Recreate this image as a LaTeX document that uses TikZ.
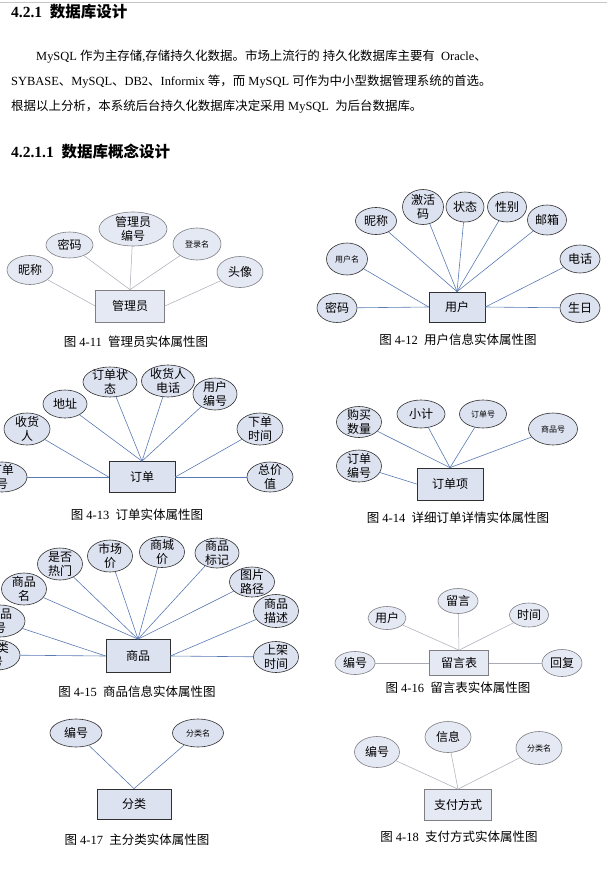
\documentclass[tikz,border=0pt]{standalone}
\usepackage{fontspec}
\setmainfont{Liberation Serif}
\newfontfamily\cjk{Noto Sans CJK SC}
\usetikzlibrary{shapes.geometric}
\newcommand{\zh}[1]{{\cjk #1}}

\definecolor{edgeD}{HTML}{303030}
\definecolor{edgeL}{HTML}{7E7E84}
\definecolor{fillA}{HTML}{DDE2F0}
\definecolor{fillL}{HTML}{E5E9F4}
\definecolor{linkB}{HTML}{5A7AB5}
\definecolor{linkG}{HTML}{A8AAB6}

\tikzset{
  attrnode/.style 2 args={ellipse, draw=edgeD, fill=fillA, line width=0.6pt,
    minimum width=#1pt, minimum height=#2pt, inner sep=0pt},
  attrsoft/.style 2 args={attrnode={#1}{#2}, draw=edgeL, fill=fillL},
  zh/.style={font=\cjk\fontsize{12}{14.5}\selectfont, align=center, inner sep=0pt},
  zhs/.style={font=\cjk\fontsize{8}{9}\selectfont, inner sep=0pt},
  entity/.style 2 args={rectangle, draw=edgeD, fill=fillA, line width=0.7pt,
    minimum width=#1pt, minimum height=#2pt, inner sep=0pt,
    font=\cjk\fontsize{12}{14}\selectfont},
  entitysoft/.style 2 args={entity={#1}{#2}, draw=edgeL, fill=fillL},
  link/.style={draw=linkB, line width=0.6pt},
  softlink/.style={draw=linkG, line width=0.5pt},
  caption/.style={font=\fontsize{12.5}{14}\selectfont, inner sep=0pt},
  bodyline/.style={anchor=west, inner sep=0pt, font=\fontsize{12.45}{15}\selectfont},
  heading/.style={anchor=west, inner sep=0pt, font=\bfseries\fontsize{15.5}{17}\selectfont}
}

\begin{document}
\begin{tikzpicture}[x=1pt, y=-1pt]
\useasboundingbox (0,0) rectangle (607,877);
\fill[white] (0,0) rectangle (607,877);
\draw[gray!45, line width=0.6pt] (0,2) -- (607,2);

% section text
\node[heading] (h1) at (11,12) {4.2.1\ \ \zh{数据库设计}};
\node[bodyline] (p1) at (36,57) {MySQL \zh{作为主存储},\zh{存储持久化数据。市场上流行的}\ \zh{持久化数据库主要有}\ \ Oracle\zh{、}};
\node[bodyline] (p2) at (11,82) {SYBASE\zh{、}MySQL\zh{、}DB2\zh{、}Informix \zh{等，而} MySQL \zh{可作为中小型数据管理系统的首选。}};
\node[bodyline] (p3) at (11,107) {\zh{根据以上分析，本系统后台持久化数据库决定采用} MySQL\ \ \zh{为后台数据库。}};
\node[heading] (h2) at (11,152) {4.2.1.1\ \ \zh{数据库概念设计}};

% administrator
\node[attrsoft={46}{29}, label={[zh]center:昵称}] (a1) at (30,270) {};
\node[attrsoft={47}{26}, label={[zh]center:密码}] (a2) at (69.5,245) {};
\node[attrsoft={68}{34}, label={[zh]center:{管理员\\编号}}] (a3) at (133,229) {};
\node[attrsoft={48}{32}, label={[zhs]center:登录名}] (a4) at (197,244) {};
\node[attrsoft={46}{31}, label={[zh]center:头像}] (a5) at (240,272) {};
\node[entitysoft={69}{32}] (A) at (130,306) {管理员};
\draw[softlink] (a1) -- (A.west);
\draw[softlink] (a2) -- (A.north);
\draw[softlink] (a3) -- (A.north);
\draw[softlink] (a4) -- (A.north);
\draw[softlink] (a5) -- (A.east);
\node[caption] (capA) at (136,342) {\zh{图} 4-11\ \ \zh{管理员实体属性图}};

% user
\node[attrnode={41}{27}, label={[zh]center:昵称}] (b1) at (376,221) {};
\node[attrnode={41}{35}, label={[zh]center:{激活\\码}}] (b2) at (423,207) {};
\node[attrnode={38}{30}, label={[zh]center:状态}] (b3) at (465,207) {};
\node[attrnode={39}{30}, label={[zh]center:性别}] (b4) at (507,207) {};
\node[attrnode={39}{30}, label={[zh]center:邮箱}] (b5) at (547,220) {};
\node[attrnode={41}{32}, label={[zhs]center:用户名}] (b6) at (347,259) {};
\node[attrnode={40}{28}, label={[zh]center:电话}] (b7) at (580,259) {};
\node[attrnode={40}{29}, label={[zh]center:密码}] (b8) at (337,308) {};
\node[attrnode={40}{29}, label={[zh]center:生日}] (b9) at (580,308) {};
\node[entity={56}{30}] (B) at (457,307) {用户};
\draw[link] (b1) -- (B.north);
\draw[link] (b2) -- (B.north);
\draw[link] (b3) -- (B.north);
\draw[link] (b4) -- (B.north);
\draw[link] (b5) -- (B.north);
\draw[link] (b6) -- (B.west);
\draw[link] (b8) -- (B.west);
\draw[link] (b7) -- (B.east);
\draw[link] (b9) -- (B.east);
\node[caption] (capB) at (458,340) {\zh{图} 4-12\ \ \zh{用户信息实体属性图}};

% order
\node[attrnode={50}{30}, label={[zh]center:{订单\\号}}] (c1) at (2,477) {};
\node[attrnode={46}{32}, label={[zh]center:{收货\\人}}] (c2) at (27,429) {};
\node[attrnode={44}{28}, label={[zh]center:地址}] (c3) at (65,404) {};
\node[attrnode={54}{30}, label={[zh]center:{订单状\\态}}] (c4) at (110,382) {};
\node[attrnode={53}{32}, label={[zh]center:{收货人\\电话}}] (c5) at (168,381) {};
\node[attrnode={44}{32}, label={[zh]center:{用户\\编号}}] (c6) at (215,394) {};
\node[attrnode={46}{32}, label={[zh]center:{下单\\时间}}] (c7) at (260,429) {};
\node[attrnode={46}{30}, label={[zh]center:{总价\\值}}] (c8) at (270,477) {};
\node[entity={66}{31}] (C) at (142,477) {订单};
\draw[link] (c1) -- (C.west);
\draw[link] (c2) -- (C.west);
\draw[link] (c3) -- (C.north);
\draw[link] (c4) -- (C.north);
\draw[link] (c5) -- (C.north);
\draw[link] (c6) -- (C.north);
\draw[link] (c7) -- (C.east);
\draw[link] (c8) -- (C.east);
\node[caption] (capC) at (137,515) {\zh{图} 4-13\ \ \zh{订单实体属性图}};

% order item
\node[attrnode={45}{31}, label={[zh]center:{购买\\数量}}] (d1) at (359,422) {};
\node[attrnode={48}{28}, label={[zh]center:小计}] (d2) at (421,414) {};
\node[attrnode={47}{28}, label={[zhs]center:订单号}] (d3) at (483,414) {};
\node[attrnode={49}{32}, label={[zhs]center:商品号}] (d4) at (553,429) {};
\node[attrnode={45}{32}, label={[zh]center:{订单\\编号}}] (d5) at (359,466) {};
\node[entity={66}{32}] (D) at (450,484) {订单项};
\draw[link] (d1) -- (D.north);
\draw[link] (d2) -- (D.north);
\draw[link] (d3) -- (D.north);
\draw[link] (d4) -- (D.north);
\draw[link] (d5) -- (D.west);
\node[caption] (capD) at (458,518) {\zh{图} 4-14\ \ \zh{详细订单详情实体属性图}};

% goods
\node[attrnode={45}{32}, label={[zh]center:{是否\\热门}}] (e1) at (60,564) {};
\node[attrnode={45}{32}, label={[zh]center:{市场\\价}}] (e2) at (110,556) {};
\node[attrnode={45}{31}, label={[zh]center:{商城\\价}}] (e3) at (162,552) {};
\node[attrnode={44}{30}, label={[zh]center:{商品\\标记}}] (e4) at (217,553) {};
\node[attrnode={45}{30}, label={[zh]center:{图片\\路径}}] (e5) at (252,582) {};
\node[attrnode={45}{33}, label={[zh]center:{商品\\描述}}] (e6) at (276,611) {};
\node[attrnode={45}{31}, label={[zh]center:{上架\\时间}}] (e7) at (276,657) {};
\node[attrnode={45}{32}, label={[zh]center:{商品\\名}}] (e8) at (24,589) {};
\node[attrnode={50}{32}, label={[zh]center:{商品\\号}}] (e9) at (0,621) {};
\node[attrnode={46}{30}, label={[zh]center:{分类\\号}}] (e10) at (-3,655) {};
\node[entity={64}{33}] (E) at (138,656) {商品};
\draw[link] (e10) -- (E.west);
\draw[link] (e9) -- (E.west);
\draw[link] (e8) -- (E.north);
\draw[link] (e1) -- (E.north);
\draw[link] (e2) -- (E.north);
\draw[link] (e3) -- (E.north);
\draw[link] (e4) -- (E.north);
\draw[link] (e5) -- (E.north);
\draw[link] (e6) -- (E.east);
\draw[link] (e7) -- (E.east);
\node[caption] (capE) at (137,692) {\zh{图} 4-15\ \ \zh{商品信息实体属性图}};

% message board
\node[attrsoft={38}{23}, label={[zh]center:用户}] (f1) at (387,618) {};
\node[attrsoft={40}{25}, label={[zh]center:留言}] (f2) at (458,601) {};
\node[attrsoft={39}{24}, label={[zh]center:时间}] (f3) at (529,615) {};
\node[attrsoft={40}{23}, label={[zh]center:编号}] (f4) at (355,663) {};
\node[attrsoft={40}{27}, label={[zh]center:回复}] (f5) at (562,663) {};
\node[entitysoft={59}{25}] (F) at (459,663) {留言表};
\draw[softlink] (f1) -- (F.north);
\draw[softlink] (f2) -- (F.north);
\draw[softlink] (f3) -- (F.north);
\draw[softlink] (f4) -- (F.west);
\draw[softlink] (f5) -- (F.east);
\node[caption] (capF) at (458,688) {\zh{图} 4-16\ \ \zh{留言表实体属性图}};

% category
\node[attrnode={52}{28}, label={[zh]center:编号}] (g1) at (76,733) {};
\node[attrnode={51}{28}, label={[zhs]center:分类名}] (g2) at (198,733) {};
\node[entity={74}{30}] (G) at (134,804) {分类};
\draw[link] (g1) -- (G.north);
\draw[link] (g2) -- (G.north);
\node[caption] (capG) at (137,840) {\zh{图} 4-17\ \ \zh{主分类实体属性图}};

% payment
\node[attrsoft={45}{31}, label={[zh]center:编号}] (h1) at (377,752) {};
\node[attrsoft={46}{31}, label={[zh]center:信息}] (h2) at (448,737) {};
\node[attrsoft={46}{33}, label={[zhs]center:分类名}] (h3) at (539,748) {};
\node[entitysoft={67}{31}] (H) at (458,805) {支付方式};
\draw[softlink] (h1) -- (H.north);
\draw[softlink] (h2) -- (H.north);
\draw[softlink] (h3) -- (H.north);
\node[caption] (capH) at (459,837) {\zh{图} 4-18\ \ \zh{支付方式实体属性图}};
\end{tikzpicture}
\end{document}
